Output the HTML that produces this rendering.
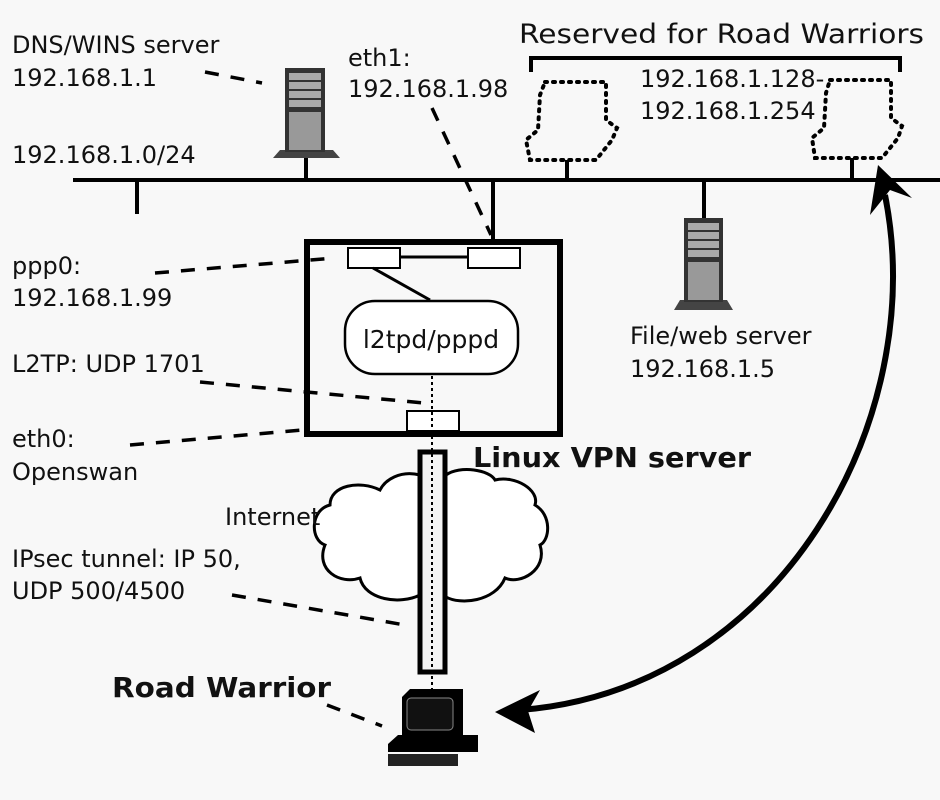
<!DOCTYPE html>
<html><head><meta charset="utf-8"><style>
html,body{margin:0;padding:0;background:#f8f8f8;}
svg{display:block;}
text{font-family:"DejaVu Sans","Liberation Sans",sans-serif;font-size:24px;fill:#111;}
.b{font-weight:bold;}
</style></head><body>
<svg width="940" height="800" viewBox="0 0 940 800" xmlns="http://www.w3.org/2000/svg">
<rect width="940" height="800" fill="#f8f8f8"/>
<g stroke="#000" fill="none">
<line x1="73" y1="180" x2="940" y2="180" stroke-width="4"/>
<line x1="137" y1="180" x2="137" y2="214" stroke-width="4"/>
<line x1="306" y1="155" x2="306" y2="180" stroke-width="4"/>
<line x1="493" y1="180" x2="493" y2="240" stroke-width="4"/>
<line x1="567" y1="160" x2="567" y2="180" stroke-width="4"/>
<line x1="852" y1="158" x2="852" y2="180" stroke-width="4"/>
<line x1="704" y1="180" x2="704" y2="220" stroke-width="4"/>
<path d="M531 72 V58 H900 V72" stroke-width="4"/>
<path d="M545 82 H606 V120 L617 128 L612 140 L596 160 H530 L526 140 L538 130 L540 95 Z" stroke-width="4" stroke-dasharray="2 6" stroke-linecap="round"/>
<path d="M830 80 H891 V118 L902 126 L898 138 L882 158 H815 L812 138 L824 128 L826 93 Z" stroke-width="4" stroke-dasharray="2 6" stroke-linecap="round"/>
<rect x="307" y="242" width="253" height="192" stroke-width="6"/>
<rect x="348" y="248" width="52" height="20" stroke-width="2" fill="#fff"/>
<rect x="468" y="248" width="52" height="20" stroke-width="2" fill="#fff"/>
<line x1="400" y1="257" x2="468" y2="257" stroke-width="3"/>
<line x1="373" y1="268" x2="430" y2="300" stroke-width="3"/>
<rect x="345" y="301" width="173" height="73" rx="30" stroke-width="2.5" fill="#fff"/>
<rect x="407" y="411" width="52" height="20" stroke-width="2" fill="#fff"/>
<path d="M420 475 C400 470 385 480 380 490 C360 480 330 485 330 505 C310 510 310 540 325 545 C315 570 340 585 360 578 C365 600 400 605 420 595 Z" stroke-width="3" fill="#fff"/>
<path d="M446 475 C460 465 490 470 495 480 C515 475 540 490 535 505 C552 515 550 540 540 545 C548 570 520 585 505 578 C495 602 460 605 446 597 Z" stroke-width="3" fill="#fff"/>
<rect x="420" y="452" width="25" height="220" stroke-width="5" fill="#f4f4f4"/>
<line x1="432" y1="376" x2="432" y2="690" stroke-width="2" stroke-dasharray="3 3"/>
<g stroke-width="3.5" stroke-dasharray="14 12">
<line x1="205" y1="72" x2="262" y2="83"/>
<line x1="432" y1="108" x2="491" y2="235"/>
<line x1="155" y1="273" x2="335" y2="258"/>
<line x1="200" y1="382" x2="424" y2="403"/>
<line x1="130" y1="445" x2="302" y2="430"/>
<line x1="232" y1="595" x2="405" y2="625"/>
<line x1="327" y1="705" x2="382" y2="726"/>
</g>
<path d="M885 195 C930 420 780 690 520 710" stroke-width="6"/>
</g>
<text x="12" y="53">DNS/WINS server</text>
<text x="12" y="86">192.168.1.1</text>
<text x="12" y="163">192.168.1.0/24</text>
<text x="348" y="66">eth1:</text>
<text x="348" y="97">192.168.1.98</text>
<text x="519" y="43" style="font-size:27px" textLength="405" lengthAdjust="spacingAndGlyphs">Reserved for Road Warriors</text>
<text x="640" y="87">192.168.1.128-</text>
<text x="640" y="119">192.168.1.254</text>
<text x="12" y="274">ppp0:</text>
<text x="12" y="306">192.168.1.99</text>
<text x="12" y="372">L2TP: UDP 1701</text>
<text x="12" y="447">eth0:</text>
<text x="12" y="480">Openswan</text>
<text x="473" y="467" class="b" style="font-size:28px" textLength="278" lengthAdjust="spacingAndGlyphs">Linux VPN server</text>
<text x="225" y="525">Internet</text>
<text x="12" y="567">IPsec tunnel: IP 50,</text>
<text x="12" y="599">UDP 500/4500</text>
<text x="112" y="697" class="b" style="font-size:28px" textLength="219" lengthAdjust="spacingAndGlyphs">Road Warrior</text>
<text x="630" y="344">File/web server</text>
<text x="630" y="377">192.168.1.5</text>
<text x="431" y="348" style="font-size:25px" text-anchor="middle">l2tpd/pppd</text>
<polygon points="878,165 912,198 890,190 870,215" fill="#000"/>
<polygon points="495,712 540,690 528,711 535,733" fill="#000"/>
<g>
<polygon points="280,150 333,150 340,158 273,158" fill="#444"/>
<rect x="285" y="68" width="40" height="84" fill="#333"/>
<rect x="289" y="73" width="32" height="7" fill="#aaa"/>
<rect x="289" y="82" width="32" height="7" fill="#aaa"/>
<rect x="289" y="91" width="32" height="7" fill="#aaa"/>
<rect x="289" y="100" width="32" height="7" fill="#aaa"/>
<rect x="289" y="112" width="32" height="38" fill="#999"/>
</g>
<g>
<polygon points="680,300 727,300 733,310 674,310" fill="#444"/>
<rect x="684" y="218" width="39" height="84" fill="#333"/>
<rect x="688" y="223" width="31" height="7" fill="#aaa"/>
<rect x="688" y="232" width="31" height="7" fill="#aaa"/>
<rect x="688" y="241" width="31" height="7" fill="#aaa"/>
<rect x="688" y="250" width="31" height="7" fill="#aaa"/>
<rect x="688" y="262" width="31" height="38" fill="#999"/>
</g>
<g>
<polygon points="402,697 410,689 463,689 463,735 402,735" fill="#000"/>
<rect x="407" y="698" width="46" height="32" rx="4" fill="#111" stroke="#888" stroke-width="1"/>
<polygon points="388,744 398,735 478,735 478,752 388,752" fill="#000"/>
<rect x="388" y="754" width="70" height="12" fill="#222"/>
</g>
</svg>
</body></html>
